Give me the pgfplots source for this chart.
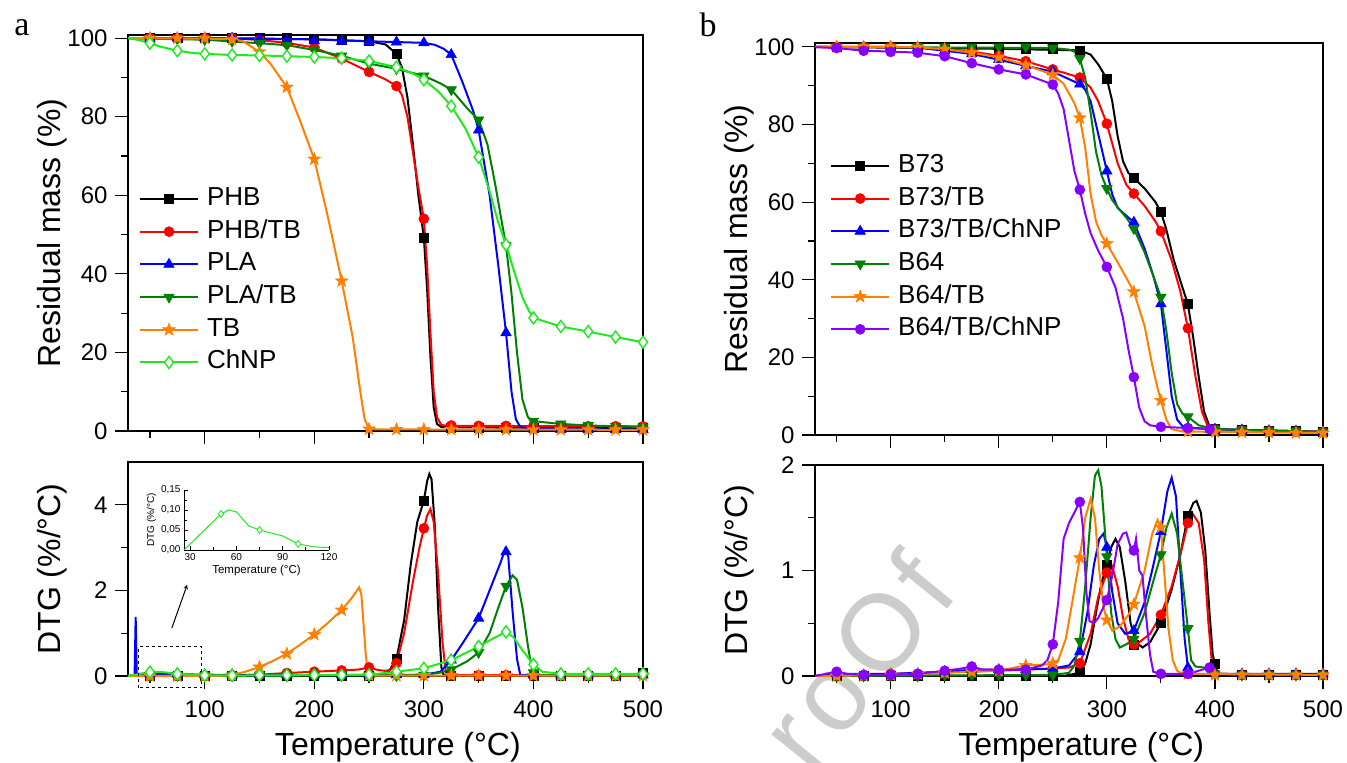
\documentclass[border=0pt]{standalone}
\usepackage{fontspec}
\setmainfont{Liberation Sans}
\newfontfamily\serifa{Liberation Serif}
\usepackage{pgfplots}
\pgfplotsset{compat=1.18}
\definecolor{cblue}{RGB}{0,0,255}
\definecolor{cred}{RGB}{255,0,0}
\definecolor{cdgreen}{RGB}{0,128,0}
\definecolor{corange}{RGB}{255,128,0}
\definecolor{clgreen}{RGB}{30,235,30}
\definecolor{cpurple}{RGB}{136,0,255}

\pgfdeclareplotmark{fstar}{%
  \pgfpathmoveto{\pgfpointpolar{90}{1.1\pgfplotmarksize}}%
  \pgfpathlineto{\pgfpointpolar{126}{0.45\pgfplotmarksize}}%
  \pgfpathlineto{\pgfpointpolar{162}{1.1\pgfplotmarksize}}%
  \pgfpathlineto{\pgfpointpolar{198}{0.45\pgfplotmarksize}}%
  \pgfpathlineto{\pgfpointpolar{234}{1.1\pgfplotmarksize}}%
  \pgfpathlineto{\pgfpointpolar{270}{0.45\pgfplotmarksize}}%
  \pgfpathlineto{\pgfpointpolar{306}{1.1\pgfplotmarksize}}%
  \pgfpathlineto{\pgfpointpolar{342}{0.45\pgfplotmarksize}}%
  \pgfpathlineto{\pgfpointpolar{18}{1.1\pgfplotmarksize}}%
  \pgfpathlineto{\pgfpointpolar{54}{0.45\pgfplotmarksize}}%
  \pgfpathclose\pgfusepathqfillstroke}

\pgfplotsset{
  sBlack/.style={black, mark=square*, mark size=4.5pt, mark options={solid, line width=0.6pt}},
  sRed/.style={cred, mark=*, mark size=5pt, mark options={solid, line width=0.6pt}},
  sBlue/.style={cblue, mark=triangle*, mark size=6pt, mark options={solid, line width=0.6pt}},
  sDGreen/.style={cdgreen, mark=triangle*, mark size=6pt, mark options={solid, line width=0.6pt, rotate=180}},
  sOrange/.style={corange, mark=fstar, mark size=6pt, mark options={solid, line width=0.6pt}},
  sLGreen/.style={clgreen, mark=diamond*, mark size=6pt, mark options={solid, line width=1.4pt, fill=white}},
  sPurple/.style={cpurple, mark=*, mark size=5pt, mark options={solid, line width=0.6pt}},
  base/.style={scale only axis, anchor=south west, xmin=30, xmax=500, clip=false,
    axis line style={line width=1.2pt}, tick style={line width=1.2pt, black},
    tick align=outside, tick pos=left, major tick length=13pt, minor tick length=7pt,
    xtick={100,200,300,400,500}, minor xtick={50,150,250,350,450},
    tick label style={font=\fontsize{24}{28}\selectfont},
    xticklabel style={yshift=-8pt}, yticklabel style={xshift=-4pt},
    /pgf/number format/assume math mode=true,
    label style={font=\fontsize{32}{36}\selectfont},
    every axis plot/.append style={line width=2pt},
    legend cell align=left,
    legend image code/.code={\draw[mark repeat=2,mark phase=2,#1] plot coordinates {(0pt,0pt) (29pt,0pt) (58pt,0pt)};},
  },
  toplegend/.style={legend style={at={(axis description cs:#1)}, anchor=north west, draw=none, fill=none,
    font=\fontsize{26}{30}\selectfont, inner sep=0pt, row sep=7.7pt, column sep=8pt,
    nodes={inner sep=0pt, text height=19pt, text depth=6pt}}},
}

\begin{document}
\begin{tikzpicture}[x=1pt,y=1pt]
\useasboundingbox (0,0) rectangle (1347,763);
\node[rotate=51, text=black!20, font=\fontsize{108}{108}\selectfont\addfontfeature{LetterSpace=8}] at (856,102) {roOf};
\node[font=\serifa\fontsize{34}{34}\selectfont, anchor=base] at (22,727) {a};
\node[font=\serifa\fontsize{34}{34}\selectfont, anchor=base] at (708,726) {b};

% ---------------- panel a, top ----------------
\begin{axis}[base, at={(128pt,332pt)}, width=515pt, height=396pt,
  ymin=0, ymax=100.8, ytick={0,20,40,60,80,100}, minor ytick={10,30,50,70,90},
  xticklabels={}, ylabel={Residual mass (\%)},
  ylabel style={at={(axis description cs:-0.148,0.5)}, anchor=center},
  toplegend={0.021,0.618}]
\addplot[sBlack, mark=none, forget plot] coordinates {(30,100)(100,100)(150,99.9)(200,99.7)(250,99.2)(265,98.4)(275,96)(280,92.5)(285,85)(290,73)(295,60)(300,49.3)(303,36)(306,19)(309,6)(312,1.8)(316,1)(350,0.9)(500,0.8)};
\addplot[sBlack, only marks, forget plot] coordinates {(50,100)(75,100)(100,100)(125,100)(150,100)(175,100)(200,99.8)(225,99.5)(250,99.2)(275,96)(300,49.3)(325,0.9)(350,0.9)(375,0.9)(400,0.8)(425,0.8)(450,0.8)(475,0.8)(500,0.8)};
\addplot[sRed, mark=none, forget plot] coordinates {(30,100)(125,100)(150,99.5)(175,98.8)(200,97.6)(225,94.8)(250,91.4)(265,89.5)(275,87.8)(280,85.5)(285,80)(290,71)(295,62)(300,54)(303,42)(306,25)(309,10)(312,3.5)(316,1.5)(325,1.3)(500,1.2)};
\addplot[sRed, only marks, forget plot] coordinates {(50,100)(75,100)(100,100)(125,100)(150,99.5)(175,98.8)(200,97.6)(225,94.8)(250,91.4)(275,87.8)(300,54)(325,1.4)(350,1.3)(375,1.3)(400,1.3)(425,1.2)(450,1.2)(475,1.2)(500,1.2)};
\addplot[sBlue, mark=none, forget plot] coordinates {(30,100)(200,99.7)(250,99.2)(300,98.8)(310,98.3)(318,97.3)(325,95.8)(335,89)(345,81.5)(350,76.6)(360,60)(368,42)(375,25)(380,10)(384,3)(388,1)(400,0.5)(500,0.3)};
\addplot[sBlue, only marks, forget plot] coordinates {(50,100)(75,100)(100,100)(125,100)(150,99.7)(175,99.4)(200,99.3)(225,99.2)(250,99.1)(275,99)(300,98.8)(325,95.8)(350,76.6)(375,25)(400,0.5)(425,0.4)(450,0.3)(475,0.3)(500,0.3)};
\addplot[sDGreen, mark=none, forget plot] coordinates {(30,100)(100,99.6)(150,98.7)(175,98.2)(200,97)(225,95.5)(250,93.5)(275,92.2)(300,90.4)(315,88.5)(325,86.9)(340,82)(350,79.2)(358,73)(365,63)(370,55)(375,47.2)(380,35)(385,20)(390,8)(395,3.5)(400,2.5)(425,1.8)(450,1.4)(475,1.2)(500,1.0)};
\addplot[sDGreen, only marks, forget plot] coordinates {(50,99.9)(75,99.8)(100,99.6)(125,99.2)(150,98.7)(175,98.2)(200,97)(225,95.5)(250,93.5)(275,92.2)(300,90.4)(325,86.9)(350,79.2)(375,47.2)(400,2.5)(425,1.8)(450,1.4)(475,1.2)(500,1.0)};
\addplot[sOrange, mark=none, forget plot] coordinates {(30,100)(125,99.8)(135,99.2)(150,96.5)(160,93.5)(175,87.5)(187,79)(200,69.2)(212,55)(225,38.2)(235,24)(242,10)(246,3)(250,0.5)(260,0.4)(500,0.3)};
\addplot[sOrange, only marks, forget plot] coordinates {(50,100)(75,100)(100,100)(125,99.6)(150,96.5)(175,87.5)(200,69.2)(225,38.2)(250,0.5)(275,0.4)(300,0.4)(325,0.4)(350,0.4)(375,0.3)(400,0.3)(425,0.3)(450,0.3)(475,0.3)(500,0.3)};
\addplot[sLGreen, mark=none, forget plot] coordinates {(30,100)(40,99.5)(50,98.7)(60,97.8)(75,96.8)(90,96.2)(100,96.0)(125,95.7)(150,95.6)(175,95.4)(200,95.2)(225,94.9)(250,94.2)(275,92.6)(290,91)(300,89.4)(313,86.5)(325,82.7)(338,77)(350,69.7)(360,61)(368,53)(375,47.4)(382,41)(390,34)(396,30.5)(400,28.8)(425,26.6)(450,25.3)(475,23.9)(500,22.6)};
\addplot[sLGreen, only marks, forget plot] coordinates {(50,98.7)(75,96.8)(100,96.0)(125,95.7)(150,95.6)(175,95.4)(200,95.2)(225,94.9)(250,94.2)(275,92.6)(300,89.4)(325,82.7)(350,69.7)(375,47.4)(400,28.8)(425,26.6)(450,25.3)(475,23.9)(500,22.6)};
\addlegendimage{sBlack, line width=2pt}\addlegendentry{PHB}
\addlegendimage{sRed, line width=2pt}\addlegendentry{PHB/TB}
\addlegendimage{sBlue, line width=2pt}\addlegendentry{PLA}
\addlegendimage{sDGreen, line width=2pt}\addlegendentry{PLA/TB}
\addlegendimage{sOrange, line width=2pt}\addlegendentry{TB}
\addlegendimage{sLGreen, line width=2pt}\addlegendentry{ChNP}
\end{axis}

% ---------------- panel a, bottom ----------------
\begin{axis}[base, at={(128pt,87pt)}, width=515pt, height=214pt,
  ymin=0, ymax=5, ytick={0,2,4}, minor ytick={1,3},
  ylabel={DTG (\%/°C)}, xlabel={Temperature (°C)},
  ylabel style={at={(axis description cs:-0.148,0.5)}, anchor=center},
  xlabel style={at={(axis description cs:0.524,0)}, anchor=base, yshift=-79pt}]
\addplot[sBlack, mark=none] coordinates {(30,0)(260,0.02)(268,0.1)(275,0.4)(282,1.3)(288,2.6)(294,3.6)(300,4.1)(303,4.55)(305,4.72)(307,4.6)(310,3.5)(313,1.6)(316,0.2)(318,0.02)(495,0.02)(500,0.08)};
\addplot[sBlack, only marks] coordinates {(50,0)(75,0)(100,0)(125,0)(150,0)(175,0)(200,0)(225,0)(250,0)(275,0.4)(300,4.1)(325,0.01)(350,0.01)(375,0.01)(400,0.01)(425,0.01)(450,0.01)(475,0.01)(500,0.08)};
\addplot[sRed, mark=none] coordinates {(30,0)(120,0.01)(150,0.03)(175,0.07)(200,0.1)(225,0.13)(240,0.15)(250,0.2)(258,0.14)(265,0.12)(270,0.15)(275,0.3)(282,1.0)(290,2.2)(296,3.0)(300,3.45)(303,3.75)(306,3.9)(309,3.6)(313,2.4)(317,0.8)(320,0.1)(323,0.02)(500,0.02)};
\addplot[sRed, only marks] coordinates {(50,0)(75,0)(100,0.01)(125,0.02)(150,0.03)(175,0.07)(200,0.1)(225,0.13)(250,0.2)(275,0.3)(300,3.45)(325,0.02)(350,0.02)(375,0.02)(400,0.02)(425,0.02)(450,0.02)(475,0.02)(500,0.02)};
\addplot[sBlue, mark=none] coordinates {(30,0)(36,0)(37,1.38)(38,0.05)(60,0.05)(100,0.03)(200,0.02)(300,0.03)(315,0.1)(325,0.37)(335,0.75)(350,1.35)(360,2.0)(370,2.65)(374,2.95)(377,2.8)(381,1.5)(385,0.4)(388,0.02)(500,0.02)};
\addplot[sBlue, only marks] coordinates {(50,0.05)(75,0.05)(100,0.03)(125,0.03)(150,0.03)(175,0.03)(200,0.03)(225,0.03)(250,0.03)(275,0.03)(300,0.03)(325,0.37)(350,1.35)(375,2.9)(400,0.02)(425,0.02)(450,0.02)(475,0.02)(500,0.02)};
\addplot[sDGreen, mark=none] coordinates {(30,0)(300,0.02)(315,0.08)(325,0.15)(340,0.35)(350,0.55)(360,1.0)(368,1.6)(375,2.1)(381,2.35)(385,2.25)(390,1.6)(395,0.7)(398,0.25)(400,0.08)(405,0.02)(500,0.02)};
\addplot[sDGreen, only marks] coordinates {(50,0.01)(75,0.01)(100,0.01)(125,0.01)(150,0.01)(175,0.01)(200,0.01)(225,0.01)(250,0.01)(275,0.01)(300,0.02)(325,0.15)(350,0.55)(375,2.1)(400,0.08)(425,0.02)(450,0.02)(475,0.02)(500,0.02)};
\addplot[sOrange, mark=none] coordinates {(30,0)(110,0)(125,0.02)(137,0.1)(150,0.21)(162,0.35)(175,0.52)(187,0.73)(200,0.97)(212,1.23)(225,1.54)(235,1.85)(241,2.07)(243,1.9)(245,1.2)(247,0.5)(249,0.05)(252,0.01)(500,0.01)};
\addplot[sOrange, only marks] coordinates {(50,0)(75,0)(100,0)(125,0.02)(150,0.21)(175,0.52)(200,0.97)(225,1.54)(250,0.02)(275,0.01)(300,0.01)(325,0.01)(350,0.01)(375,0.01)(400,0.01)(425,0.01)(450,0.01)(475,0.01)(500,0.01)};
\addplot[sLGreen, mark=none] coordinates {(30,0)(50,0.09)(55,0.1)(60,0.095)(75,0.05)(100,0.015)(125,0.01)(200,0.02)(250,0.03)(275,0.1)(300,0.18)(325,0.37)(350,0.69)(365,0.9)(375,1.03)(382,0.9)(390,0.6)(396,0.4)(400,0.27)(408,0.1)(425,0.05)(500,0.05)};
\addplot[sLGreen, only marks] coordinates {(50,0.09)(75,0.05)(100,0.015)(125,0.01)(150,0.02)(175,0.02)(200,0.02)(225,0.02)(250,0.03)(275,0.1)(300,0.18)(325,0.37)(350,0.69)(375,1.03)(400,0.27)(425,0.05)(450,0.05)(475,0.05)(500,0.05)};
\draw[dashed, line width=1pt] (axis cs:40,-0.28) rectangle (axis cs:97.5,0.68);
\draw[-stealth, line width=1pt] (axis cs:70,1.12) -- (axis cs:84,2.13);
\end{axis}

% ---------------- inset ----------------
\begin{axis}[scale only axis, anchor=south west, at={(184pt,213pt)}, width=145pt, height=60pt,
  xmin=26, xmax=120, ymin=0, ymax=0.15, axis lines*=left,
  axis line style={line width=0.8pt}, tick style={line width=0.8pt, black},
  tick align=inside, major tick length=4pt, minor tick length=2.5pt,
  xtick={30,60,90,120}, minor xtick={45,75,105}, ytick={0,0.05,0.1,0.15}, minor ytick={0.025,0.075,0.125},
  scaled y ticks=false,
  yticklabel style={/pgf/number format/.cd, fixed, fixed zerofill, precision=2, use comma},
  tick label style={font=\fontsize{10}{12}\selectfont},
  /pgf/number format/assume math mode=true,
  xlabel={Temperature (°C)}, ylabel={DTG (\%/°C)},
  xlabel style={font=\fontsize{11.5}{13}\selectfont, yshift=2pt},
  ylabel style={font=\fontsize{10}{12}\selectfont, yshift=-2pt}]
\addplot[sLGreen, mark=none, line width=1pt] coordinates {(26,0)(50,0.09)(55,0.1)(60,0.095)(68,0.06)(75,0.05)(85,0.04)(90,0.035)(100,0.015)(110,0.008)(120,0.006)};
\addplot[sLGreen, only marks, mark size=3.5pt, mark options={line width=0.8pt, fill=white}] coordinates {(50,0.09)(75,0.05)(100,0.015)};
\end{axis}

% ---------------- panel b, top ----------------
\begin{axis}[base, at={(815pt,328pt)}, width=508pt, height=392pt,
  ymin=0, ymax=101, ytick={0,20,40,60,80,100}, minor ytick={10,30,50,70,90},
  xticklabels={}, ylabel={Residual mass (\%)},
  ylabel style={at={(axis description cs:-0.15,0.5)}, anchor=center},
  toplegend={0.0295,0.719}]
\addplot[sBlack, mark=none, forget plot] coordinates {(30,100)(100,99.8)(200,99.5)(275,99.1)(285,98)(292,95.5)(300,91.8)(305,86)(310,77)(315,70.5)(320,67.5)(325,66.2)(335,63.5)(345,60)(350,57.5)(355,53)(362,45)(370,38)(375,33.7)(380,25)(385,15)(390,6)(395,2.2)(400,1.5)(425,1.3)(450,1.1)(475,1.0)(500,0.8)};
\addplot[sBlack, only marks, forget plot] coordinates {(50,100)(75,100)(100,100)(125,100)(150,99.7)(175,99.5)(200,99.5)(225,99.4)(250,99.4)(275,99.1)(300,91.8)(325,66.2)(350,57.5)(375,33.7)(400,1.5)(425,1.3)(450,1.1)(475,1.0)(500,0.8)};
\addplot[sRed, mark=none, forget plot] coordinates {(30,100)(100,100)(150,99.5)(175,98.8)(200,97.7)(225,96.3)(250,94.2)(275,92.1)(285,89.5)(292,86)(300,80.2)(310,70)(318,64.5)(325,62.2)(335,59)(345,55)(350,52.5)(360,45)(368,37)(375,27.5)(382,15)(388,6)(393,2.5)(400,1.5)(500,0.8)};
\addplot[sRed, only marks, forget plot] coordinates {(50,100)(75,100)(100,100)(125,99.9)(150,99.5)(175,98.8)(200,97.7)(225,96.3)(250,94.2)(275,92.1)(300,80.2)(325,62.2)(350,52.5)(375,27.5)(400,1.5)(425,1.2)(450,1.0)(475,0.9)(500,0.8)};
\addplot[sBlue, mark=none, forget plot] coordinates {(30,100)(100,100)(125,99.8)(150,99)(175,98.2)(200,96.7)(225,95.1)(250,93.6)(275,90.4)(280,89)(285,86)(290,80)(295,74)(300,68)(305,62)(310,58.5)(318,56.5)(325,54.8)(335,48)(343,41)(350,33.8)(355,22)(360,10)(365,4)(370,2.3)(375,1.9)(400,1.5)(500,0.8)};
\addplot[sBlue, only marks, forget plot] coordinates {(50,100)(75,100)(100,100)(125,99.8)(150,99)(175,98.2)(200,96.7)(225,95.1)(250,93.6)(275,90.4)(300,68)(325,54.8)(350,33.8)(375,1.9)(400,1.5)(425,1.3)(450,1.1)(475,1.0)(500,0.8)};
\addplot[sDGreen, mark=none, forget plot] coordinates {(30,100)(250,99.7)(265,99.3)(270,98.8)(275,97)(280,92)(285,83)(290,73)(295,67)(300,63.5)(305,60.5)(312,58)(318,56)(325,53.2)(335,47)(343,41)(350,35.5)(355,27)(360,16)(365,8)(370,5.5)(375,4.7)(385,2.5)(400,1.5)(500,0.8)};
\addplot[sDGreen, only marks, forget plot] coordinates {(50,100)(75,100)(100,100)(125,100)(150,100)(175,100)(200,100)(225,100)(250,99.7)(275,97)(300,63.5)(325,53.2)(350,35.5)(375,4.7)(400,1.5)(425,1.3)(450,1.1)(475,1.0)(500,0.8)};
\addplot[sOrange, mark=none, forget plot] coordinates {(30,100)(125,99.9)(150,99.4)(175,98.5)(200,97.3)(225,95.3)(250,92.8)(260,90.5)(265,88)(270,85.5)(275,81.7)(280,74)(285,62)(290,55)(295,51.5)(300,49.3)(310,44.5)(318,40.5)(325,36.9)(335,28)(342,18)(347,12)(350,8.9)(355,4)(360,1.5)(370,0.9)(400,0.8)(500,0.5)};
\addplot[sOrange, only marks, forget plot] coordinates {(50,100)(75,100)(100,100)(125,99.9)(150,99.4)(175,98.5)(200,97.3)(225,95.3)(250,92.8)(275,81.7)(300,49.3)(325,36.9)(350,8.9)(375,0.9)(400,0.8)(425,0.7)(450,0.6)(475,0.5)(500,0.5)};
\addplot[sPurple, mark=none, forget plot] coordinates {(30,99.9)(50,99.7)(75,99)(100,98.8)(125,98.5)(150,97.6)(175,95.8)(200,94.2)(225,92.9)(250,90.3)(255,88)(260,84)(265,76)(270,68)(275,63.2)(280,57)(285,52)(292,47.5)(300,43.3)(308,38)(315,30)(320,22)(325,14.9)(330,7)(335,3.5)(340,2.5)(350,2.1)(375,1.8)(395,1.5)};
\addplot[sPurple, only marks, forget plot] coordinates {(50,99.7)(75,99)(100,98.7)(125,98.5)(150,97.6)(175,95.8)(200,94.2)(225,92.9)(250,90.3)(275,63.2)(300,43.3)(325,14.9)(350,2.1)(375,1.8)(395,1.5)};
\addlegendimage{sBlack, line width=2pt}\addlegendentry{B73}
\addlegendimage{sRed, line width=2pt}\addlegendentry{B73/TB}
\addlegendimage{sBlue, line width=2pt}\addlegendentry{B73/TB/ChNP}
\addlegendimage{sDGreen, line width=2pt}\addlegendentry{B64}
\addlegendimage{sOrange, line width=2pt}\addlegendentry{B64/TB}
\addlegendimage{sPurple, line width=2pt}\addlegendentry{B64/TB/ChNP}
\end{axis}

% ---------------- panel b, bottom ----------------
\begin{axis}[base, at={(815pt,87pt)}, width=508pt, height=211pt,
  ymin=0, ymax=2, ytick={0,1,2}, minor ytick={0.5,1.5},
  ylabel={DTG (\%/°C)}, xlabel={Temperature (°C)},
  ylabel style={at={(axis description cs:-0.15,0.5)}, anchor=center},
  xlabel style={at={(axis description cs:0.524,0)}, anchor=base, yshift=-79pt}]
\addplot[sBlack, mark=none] coordinates {(30,0)(260,0)(270,0.02)(275,0.04)(280,0.12)(285,0.3)(290,0.6)(295,0.88)(300,1.05)(304,1.22)(308,1.3)(312,1.22)(317,0.9)(322,0.5)(327,0.32)(333,0.27)(340,0.32)(350,0.5)(360,0.82)(368,1.15)(375,1.52)(380,1.64)(383,1.66)(387,1.55)(391,1.2)(395,0.6)(398,0.2)(400,0.12)(403,0.02)(500,0.01)};
\addplot[sBlack, only marks] coordinates {(50,0)(75,0)(100,0)(125,0)(150,0)(175,0)(200,0)(225,0)(250,0)(275,0.04)(300,1.05)(325,0.3)(350,0.5)(375,1.52)(400,0.12)(425,0.01)(450,0.01)(475,0.01)(500,0.01)};
\addplot[sRed, mark=none] coordinates {(30,0)(100,0.02)(200,0.05)(250,0.07)(265,0.08)(275,0.12)(285,0.4)(292,0.75)(300,0.98)(305,1.04)(310,0.85)(315,0.55)(320,0.35)(325,0.3)(330,0.32)(340,0.4)(350,0.58)(360,0.85)(368,1.15)(375,1.45)(380,1.53)(385,1.45)(390,1.1)(394,0.5)(397,0.15)(400,0.02)(500,0.01)};
\addplot[sRed, only marks] coordinates {(50,0.01)(75,0.01)(100,0.02)(125,0.02)(150,0.03)(175,0.04)(200,0.05)(225,0.06)(250,0.07)(275,0.12)(300,0.98)(325,0.3)(350,0.58)(375,1.45)(400,0.02)(425,0.01)(450,0.01)(475,0.01)(500,0.01)};
\addplot[sBlue, mark=none] coordinates {(30,0)(50,0.02)(100,0.02)(150,0.04)(175,0.06)(200,0.06)(250,0.07)(265,0.1)(275,0.23)(282,0.6)(288,1.05)(293,1.3)(297,1.35)(300,1.22)(305,0.8)(310,0.5)(317,0.4)(325,0.43)(335,0.7)(343,1.05)(350,1.37)(356,1.75)(360,1.88)(364,1.7)(368,1.0)(372,0.35)(375,0.08)(380,0.02)(500,0.02)};
\addplot[sBlue, only marks] coordinates {(50,0.02)(75,0.01)(100,0.02)(125,0.02)(150,0.04)(175,0.06)(200,0.06)(225,0.06)(250,0.07)(275,0.23)(300,1.22)(325,0.43)(350,1.37)(375,0.08)(400,0.02)(425,0.02)(450,0.02)(475,0.02)(500,0.02)};
\addplot[sDGreen, mark=none] coordinates {(30,0)(250,0.01)(265,0.03)(270,0.1)(275,0.33)(280,0.85)(285,1.5)(289,1.9)(292,1.95)(295,1.8)(298,1.4)(300,1.13)(304,0.6)(308,0.35)(312,0.27)(318,0.3)(325,0.35)(335,0.6)(343,0.9)(350,1.15)(355,1.4)(360,1.54)(365,1.35)(370,0.9)(375,0.45)(378,0.15)(382,0.09)(390,0.08)(395,0.02)(500,0.01)};
\addplot[sDGreen, only marks] coordinates {(50,0)(75,0)(100,0)(125,0)(150,0.01)(175,0.01)(200,0.01)(225,0.01)(250,0.01)(275,0.33)(300,1.13)(325,0.35)(350,1.15)(375,0.45)(400,0.02)(425,0.01)(450,0.01)(475,0.01)(500,0.01)};
\addplot[sOrange, mark=none] coordinates {(30,0)(100,0.01)(150,0.03)(175,0.04)(200,0.05)(225,0.1)(245,0.11)(255,0.15)(262,0.35)(268,0.7)(275,1.12)(280,1.5)(285,1.68)(289,1.5)(293,1.0)(297,0.65)(300,0.53)(305,0.43)(312,0.47)(320,0.58)(325,0.68)(335,1.0)(342,1.35)(347,1.48)(350,1.41)(353,1.0)(357,0.45)(361,0.15)(365,0.05)(370,0.02)(500,0.01)};
\addplot[sOrange, only marks] coordinates {(50,0)(75,0)(100,0.01)(125,0.02)(150,0.03)(175,0.04)(200,0.05)(225,0.1)(250,0.12)(275,1.12)(300,0.53)(325,0.68)(350,1.41)(375,0.02)(400,0.01)(425,0.01)(450,0.01)(475,0.01)(500,0.01)};
\addplot[sPurple, mark=none] coordinates {(30,0)(40,0.02)(50,0.04)(60,0.02)(75,0.01)(100,0.01)(125,0.02)(150,0.05)(165,0.07)(175,0.09)(185,0.06)(200,0.06)(225,0.06)(240,0.1)(245,0.15)(250,0.3)(255,0.7)(260,1.3)(265,1.45)(270,1.55)(275,1.65)(278,1.4)(281,0.8)(284,0.52)(288,0.5)(292,0.55)(300,0.72)(305,0.95)(310,1.25)(315,1.35)(318,1.36)(322,1.22)(325,1.19)(327,1.3)(328,1.2)(330,1.0)(333,0.95)(336,0.6)(340,0.2)(343,0.04)(350,0.02)(375,0.02)(395,0.08)};
\addplot[sPurple, only marks] coordinates {(50,0.04)(75,0.01)(100,0.01)(125,0.02)(150,0.05)(175,0.09)(200,0.06)(225,0.06)(250,0.3)(275,1.65)(300,0.72)(325,1.19)(350,0.02)(375,0.02)(395,0.08)};
\end{axis}
\end{tikzpicture}
\end{document}
